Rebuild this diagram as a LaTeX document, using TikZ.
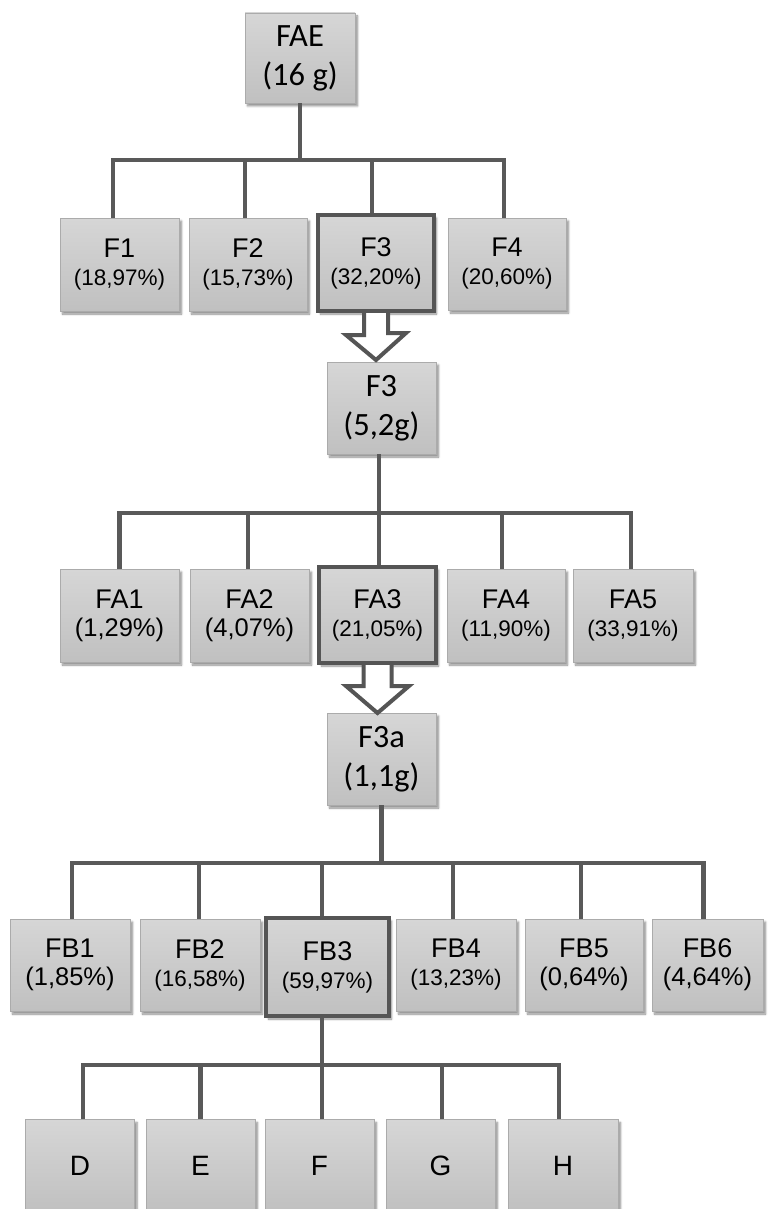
\documentclass[tikz,border=0pt]{standalone}
\usepackage{fontspec}
\setmainfont{Liberation Sans}
\newfontfamily\calfont{Carlito}
\usetikzlibrary{shadows.blur}
\definecolor{gtop}{HTML}{D6D6D6}
\definecolor{gbot}{HTML}{C0C0C0}
\definecolor{edge}{HTML}{ABABAB}
\definecolor{dark}{HTML}{595959}
\definecolor{selc}{HTML}{555555}
\newcommand\pbig{\fontsize{25.5}{28}\selectfont}
\newcommand\psm{\fontsize{22.5}{28}\selectfont}
\begin{document}
\begin{tikzpicture}[x=1pt,y=1pt,
  box/.style={draw=edge, line width=0.8pt, top color=gtop, bottom color=gbot,
    inner sep=0pt, align=center, minimum height=93pt, minimum width=119pt,
    blur shadow={shadow xshift=2.5pt, shadow yshift=-3pt, shadow blur steps=6, shadow opacity=45},
    font=\fontsize{27}{28}\selectfont},
  sel/.style={draw=selc, line width=4pt},
  cal/.style={font=\calfont\fontsize{32.5}{39}\selectfont},
  leaf/.style={font=\fontsize{28}{30}\selectfont, minimum width=109pt},
  conn/.style={draw=dark, line width=4.5pt, line join=miter},
  harrow/.style={draw=selc, line width=4pt, fill=white, line join=miter}]
\useasboundingbox (0,0) rectangle (768,-1209);

% top
\node[box, cal, minimum width=110pt, minimum height=90pt] (FAE) at (300,-58) {FAE\\(16 g)};

% row F
\node[box] (F1) at (119.5,-264.5) {F1\\{\psm (18,97\%)}};
\node[box, minimum width=118pt] (F2) at (248,-264.5) {F2\\{\psm (15,73\%)}};
\node[box, sel, minimum width=116pt, minimum height=96pt] (F3) at (376,-263) {F3\\{\psm (32,20\%)}};
\node[box, minimum width=118pt, minimum height=92pt] (F4) at (507,-264) {F4\\{\psm (20,60\%)}};

\node[box, cal, minimum width=109pt, minimum height=92pt] (F3b) at (381.5,-408) {F3\\(5,2g)};

% row FA
\node[box] (FA1) at (119.5,-615.5) {FA1\\{\pbig (1,29\%)}};
\node[box] (FA2) at (249.5,-615.5) {FA2\\{\pbig (4,07\%)}};
\node[box, sel, minimum width=117pt, minimum height=96pt] (FA3) at (377.5,-615) {FA3\\{\psm (21,05\%)}};
\node[box, minimum width=118pt] (FA4) at (506,-615.5) {FA4\\{\psm (11,90\%)}};
\node[box, minimum width=120pt] (FA5) at (633,-615.5) {FA5\\{\psm (33,91\%)}};

\node[box, cal, minimum width=109pt, minimum height=92pt] (F3a) at (381.5,-759) {F3a\\(1,1g)};

% row FB
\node[box, minimum width=120pt, minimum height=92pt] (FB1) at (70,-965) {FB1\\{\pbig (1,85\%)}};
\node[box, minimum width=120pt, minimum height=92pt] (FB2) at (200,-965) {FB2\\{\psm (16,58\%)}};
\node[box, sel, minimum width=123pt, minimum height=98pt] (FB3) at (327.5,-967) {FB3\\{\psm (59,97\%)}};
\node[box, minimum width=120pt, minimum height=92pt] (FB4) at (456,-965) {FB4\\{\psm (13,23\%)}};
\node[box, minimum width=118pt, minimum height=92pt] (FB5) at (584,-965) {FB5\\{\pbig (0,64\%)}};
\node[box, minimum width=111pt, minimum height=92pt] (FB6) at (707.5,-965) {FB6\\{\pbig (4,64\%)}};

% leaves
\node[box, leaf] (D) at (80,-1166) {D};
\node[box, leaf] (E) at (200.5,-1166) {E};
\node[box, leaf] (F) at (319.5,-1166) {F};
\node[box, leaf] (G) at (440.5,-1166) {G};
\node[box, leaf, minimum width=110pt] (H) at (563,-1166) {H};

% bars
\coordinate (barA) at (0,-160);
\coordinate (barB) at (0,-513);
\coordinate (barC) at (0,-863);
\coordinate (barD) at (0,-1065);

% connectors FAE
\draw[conn] (FAE.south) -- (FAE.south |- barA);
\draw[conn] ([xshift=-6.5pt]F1.north) |- ([xshift=-3pt]F4.north |- barA) -- ([xshift=-3pt]F4.north);
\draw[conn] ([xshift=-3pt]F2.north) -- ([xshift=-3pt]F2.north |- barA);
\draw[conn] ([xshift=-4pt]F3.north) -- ([xshift=-4pt]F3.north |- barA);

% connectors F3b
\draw[conn] ([xshift=-2.5pt]F3b.south) -- ([xshift=-2.5pt]F3b.south |- barB);
\draw[conn] (FA1.north) |- ([xshift=-2pt]FA5.north |- barB) -- ([xshift=-2pt]FA5.north);
\draw[conn] ([xshift=-1.5pt]FA2.north) -- ([xshift=-1.5pt]FA2.north |- barB);
\draw[conn] ([xshift=1.5pt]FA3.north) -- ([xshift=1.5pt]FA3.north |- barB);
\draw[conn] ([xshift=-4pt]FA4.north) -- ([xshift=-4pt]FA4.north |- barB);

% connectors F3a
\draw[conn] (F3a.south) -- (F3a.south |- barC);
\draw[conn] ([xshift=2pt]FB1.north) |- ([xshift=-4pt]FB6.north |- barC) -- ([xshift=-4pt]FB6.north);
\draw[conn] ([xshift=-1pt]FB2.north) -- ([xshift=-1pt]FB2.north |- barC);
\draw[conn] ([xshift=-5.5pt]FB3.north) -- ([xshift=-5.5pt]FB3.north |- barC);
\draw[conn] ([xshift=-3pt]FB4.north) -- ([xshift=-3pt]FB4.north |- barC);
\draw[conn] ([xshift=-3pt]FB5.north) -- ([xshift=-3pt]FB5.north |- barC);

% connectors FB3
\draw[conn] ([xshift=-5.5pt]FB3.south) -- ([xshift=-5.5pt]FB3.south |- barD);
\draw[conn] ([xshift=3pt]D.north) |- ([xshift=-4pt]H.north |- barD) -- ([xshift=-4pt]H.north);
\draw[conn] (E.north) -- (E.north |- barD);
\draw[conn] ([xshift=2.5pt]F.north) -- ([xshift=2.5pt]F.north |- barD);
\draw[conn] ([xshift=1.5pt]G.north) -- ([xshift=1.5pt]G.north |- barD);

% hollow arrows
\draw[harrow] ([xshift=-12pt]F3.south) -- ++(0,-22) -- ++(-18,0)
  -- ([yshift=-47pt]F3.south) -- ++(30,27) -- ++(-18,0) -- ([xshift=12pt]F3.south);
\draw[harrow] ([xshift=-14pt]FA3.south) -- ++(0,-21) -- ++(-17.5,0)
  -- ([yshift=-48pt]FA3.south) -- ++(31.5,27) -- ++(-17.5,0) -- ([xshift=14pt]FA3.south);
\end{tikzpicture}
\end{document}
